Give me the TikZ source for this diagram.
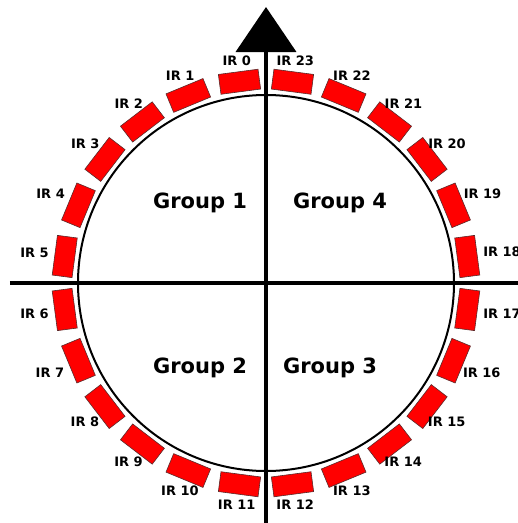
\documentclass[tikz,border=0pt]{standalone}
\usepackage{fontspec}
\setmainfont{DejaVu Sans}
\usepackage{tikz}
\usetikzlibrary{arrows.meta,positioning}
\definecolor{Sensor}{HTML}{FF0000}
\definecolor{Edge}{HTML}{5A2A2A}
\begin{document}
\begin{tikzpicture}[x=1pt,y=1pt,
    ir/.style={draw=Edge,line width=0.6pt,fill=Sensor,minimum width=20pt,minimum height=40pt,inner sep=0pt},
    lab/.style={font=\fontsize{13}{13}\selectfont\bfseries,inner sep=1pt},
    grp/.style={font=\fontsize{21}{21}\selectfont\bfseries},
    ax/.style={line width=4pt,draw=black}]
    \clip (-266,-240) rectangle (252,283);
    \fill[white] (-266,-240) rectangle (252,283);
    \coordinate (c) at (0,0);
    \coordinate (w) at (-256,0); \coordinate (e) at (252,0);
    \coordinate (s) at (0,-240); \coordinate (n) at (0,276);
    \draw[line width=2pt] (c) circle[radius=188];
    \foreach \i in {0,...,23}{
      \pgfmathsetmacro{\ang}{97.5+15*\i}
      \node[ir,rotate=\ang] (ir\i) at (\ang:203) {};
      \node[lab,anchor=\ang+180] (l\i) at (\ang:218) {IR \i};
    }
    \draw[ax] (w)--(e);
    \draw[ax,-{Triangle[width=60pt,length=45pt]}] (s)--(n);
    \node[grp] (g1) at (-66,80) {Group 1};
    \node[grp] (g4) at (74,80) {Group 4};
    \node[grp] (g2) at (-66,-85) {Group 2};
    \node[grp] (g3) at (64,-85) {Group 3};
  \end{tikzpicture}
\end{document}
